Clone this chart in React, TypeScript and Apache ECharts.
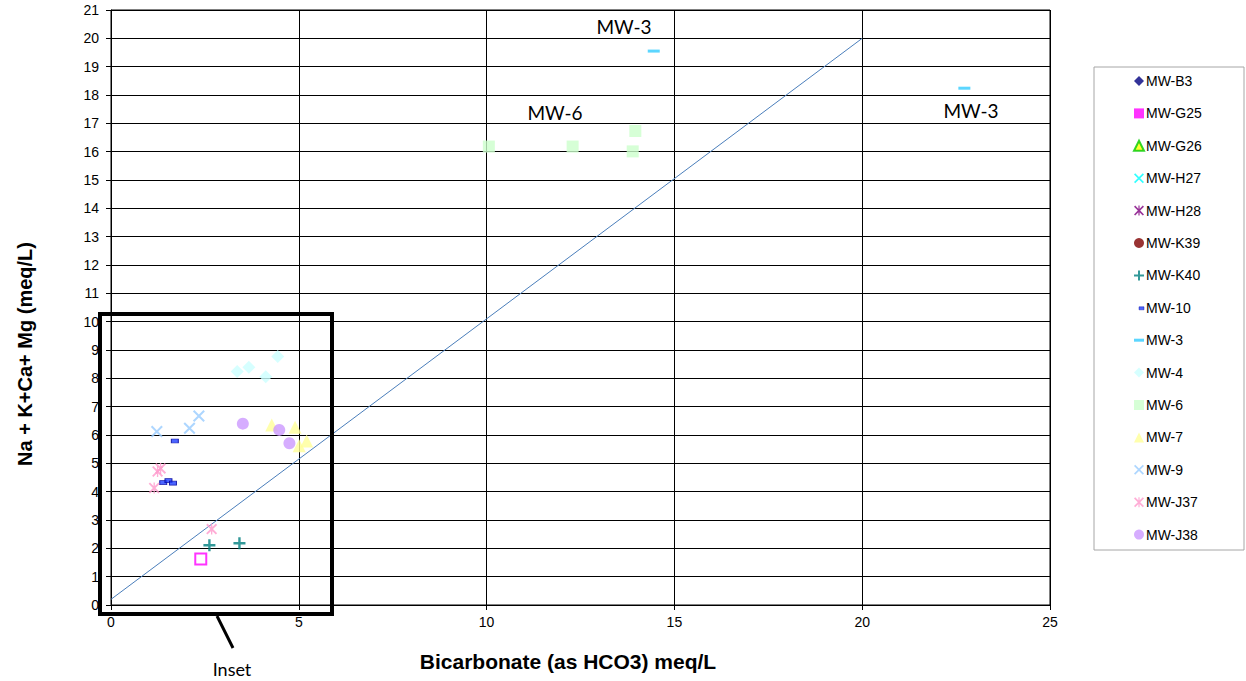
import React, { useEffect, useRef } from "react";
import * as echarts from "echarts";

// ---- data ----
const seriesNames = [
  "MW-B3", "MW-G25", "MW-G26", "MW-H27", "MW-H28", "MW-K39", "MW-K40",
  "MW-10", "MW-3", "MW-4", "MW-6", "MW-7", "MW-9", "MW-J37", "MW-J38",
];
const mwB3: number[][] = [];
const mwG25 = [[2.39, 1.62]];
const mwG26: number[][] = [];
const mwH27: number[][] = [];
const mwH28: number[][] = [];
const mwK39: number[][] = [];
const mwK40 = [[2.62, 2.11], [3.42, 2.18]];
const mw10 = [[1.7, 5.79], [1.39, 4.32], [1.53, 4.39], [1.65, 4.3]];
const mw3 = [[14.45, 19.55], [22.72, 18.24]];
const mw4 = [[3.36, 8.24], [3.67, 8.39], [4.12, 8.06], [4.44, 8.77]];
const mw6 = [[10.06, 16.18], [12.29, 16.18], [13.96, 16.73], [13.89, 16.01]];
const mw7 = [[4.28, 6.35], [4.9, 6.27], [5.21, 5.79], [5.01, 5.62]];
const mw9 = [[1.22, 6.12], [2.09, 6.24], [2.34, 6.67]];
const mwJ37 = [[1.24, 4.71], [1.32, 4.82], [1.15, 4.13], [2.68, 2.68]];
const mwJ38 = [[3.51, 6.4], [4.48, 6.18], [4.75, 5.71]];
const refLine = [[0, 0.2], [20, 20]];

const xMin = 0, xMax = 25, xStep = 5;
const yMin = 0, yMax = 21, yStep = 1;

const FONT = "Liberation Sans, Arial, sans-serif";
const NOTE_FONT = "Lato, Open Sans, sans-serif";

const X_PATH = "path://M0,1.2L1.2,0L5,3.8L8.8,0L10,1.2L6.2,5L10,8.8L8.8,10L5,6.2L1.2,10L0,8.8L3.8,5Z";
const PLUS_PATH = "path://M4,0H6V4H10V6H6V10H4V6H0V4H4Z";
const AST_PATH = "path://M0,1.2L1.2,0L5,3.8L8.8,0L10,1.2L6.2,5L10,8.8L8.8,10L5,6.2L1.2,10L0,8.8L3.8,5Z M4.4,0L5.6,0L5.6,10L4.4,10Z";
const DASH_PATH = "path://M0,0H10V3H0Z";
const SMALL_DASH_ICON = "path://M0,0L0.001,0L0,0.001Z M5,4H10V7H5Z M10,10L9.999,10L10,9.999Z";

export default function App() {
  const ref = useRef<HTMLDivElement>(null);
  useEffect(() => {
    if (!ref.current) return;
    const chart = echarts.init(ref.current, null, { renderer: "svg" });

    const sc = (name: string, data: number[][], symbol: string, size: any, itemStyle: any, extra: any = {}) => ({
      name, type: "scatter", data, symbol, symbolSize: size, itemStyle, z: 5, ...extra,
    });

    const option: any = {
      animation: false,
      backgroundColor: "#fff",
      grid: { left: 111, right: 196, top: 10, bottom: 76, show: true, borderColor: "#000", borderWidth: 1, backgroundColor: "transparent" },
      xAxis: {
        type: "value", min: xMin, max: xMax, interval: xStep,
        axisLine: { show: true, lineStyle: { color: "#000", width: 1 } },
        axisTick: { show: true, length: 5, lineStyle: { color: "#000" } },
        axisLabel: { color: "#000", fontSize: 14, fontFamily: FONT, margin: 10 },
        splitLine: { show: true, lineStyle: { color: "#000", width: 1 } },
      },
      yAxis: {
        type: "value", min: yMin, max: yMax, interval: yStep,
        axisLine: { show: true, lineStyle: { color: "#000", width: 1 } },
        axisTick: { show: true, length: 5, lineStyle: { color: "#000" } },
        axisLabel: { color: "#000", fontSize: 14, fontFamily: FONT, margin: 12 },
        splitLine: { show: true, lineStyle: { color: "#000", width: 1 } },
      },
      legend: {
        orient: "vertical", left: 1133, top: 74, padding: 0,
        itemWidth: 10, itemHeight: 10, itemGap: 18.4,
        textStyle: { color: "#000", fontSize: 14, fontFamily: FONT, lineHeight: 14, padding: [0, 0, 0, -3] },
        data: seriesNames.map((n) =>
          n === "MW-G25"
            ? { name: n, icon: "rect", itemStyle: { color: "#FF00FF", borderWidth: 0 } }
            : n === "MW-10"
            ? { name: n, icon: SMALL_DASH_ICON, itemStyle: { color: "#1F3FFF", borderColor: "#000099", borderWidth: 0.5 } }
            : n === "MW-3"
            ? { name: n, icon: DASH_PATH }
            : { name: n }
        ),
      },
      series: [
        {
          name: "ref", type: "line", data: refLine, symbol: "none", silent: true,
          lineStyle: { color: "#4A7EBB", width: 1 }, z: 3,
        },
        sc("MW-B3", mwB3, "diamond", 10, { color: "#000080" }),
        sc("MW-G25", mwG25, "rect", 11, { color: "rgba(255,255,255,0)", borderColor: "#FF00FF", borderWidth: 2 }),
        sc("MW-G26", mwG26, "triangle", 10, { color: "#FFFF00", borderColor: "#00CC00", borderWidth: 1.5 }),
        sc("MW-H27", mwH27, X_PATH, 10, { color: "#00FFFF" }),
        sc("MW-H28", mwH28, AST_PATH, 10, { color: "#800080" }),
        sc("MW-K39", mwK39, "circle", 10, { color: "#800000" }),
        sc("MW-K40", mwK40, PLUS_PATH, 12, { color: "#008080" }),
        sc("MW-10", mw10, DASH_PATH, [7, 4], { color: "#1F3FFF", borderColor: "#000099", borderWidth: 0.8 }),
        sc("MW-3", mw3, DASH_PATH, [12, 3], { color: "#33CCFF" }),
        sc("MW-4", mw4, "diamond", 13, { color: "#CCFFFF" }),
        sc("MW-6", mw6, "rect", 12, { color: "#CCFFCC" }),
        sc("MW-7", mw7, "triangle", 13, { color: "#FFFF99" }),
        sc("MW-9", mw9, X_PATH, 12, { color: "#99CCFF" }),
        sc("MW-J37", mwJ37, AST_PATH, 11, { color: "#FF99CC" }),
        sc("MW-J38", mwJ38, "circle", 12, { color: "#CC99FF" }),
      ],
      graphic: [
        { type: "rect", shape: { x: 1094, y: 67, width: 150, height: 483 }, style: { fill: "none", stroke: "#A6A6A6", lineWidth: 1 }, z: 1 },
        { type: "rect", shape: { x: 100, y: 314, width: 232, height: 300 }, style: { fill: "none", stroke: "#000", lineWidth: 4 }, z: 10 },
        { type: "line", shape: { x1: 217, y1: 616, x2: 233, y2: 648 }, style: { stroke: "#000", lineWidth: 3 }, z: 10 },
        { type: "text", x: 232, y: 669, style: { text: "Inset", font: `18px ${NOTE_FONT}`, fill: "#000", align: "center", verticalAlign: "middle" }, z: 10 },
        { type: "text", x: 624, y: 26, style: { text: "MW-3", font: `19px ${NOTE_FONT}`, fill: "#000", align: "center", verticalAlign: "middle" }, z: 10 },
        { type: "text", x: 555, y: 112, style: { text: "MW-6", font: `19px ${NOTE_FONT}`, fill: "#000", align: "center", verticalAlign: "middle" }, z: 10 },
        { type: "text", x: 971, y: 110, style: { text: "MW-3", font: `19px ${NOTE_FONT}`, fill: "#000", align: "center", verticalAlign: "middle" }, z: 10 },
        { type: "text", x: 568, y: 661, style: { text: "Bicarbonate (as HCO3) meq/L", font: `bold 21px ${FONT}`, fill: "#000", align: "center", verticalAlign: "middle" }, z: 10 },
        { type: "text", x: 25, y: 354, rotation: Math.PI / 2, style: { text: "Na + K+Ca+ Mg (meq/L)", font: `bold 20px ${FONT}`, fill: "#000", align: "center", verticalAlign: "middle" }, z: 10 },
      ],
    };
    chart.setOption(option);
    return () => chart.dispose();
  }, []);
  return <div ref={ref} style={{ width: 1246, height: 681, position: "absolute", left: 0, top: 0 }} />;
}
